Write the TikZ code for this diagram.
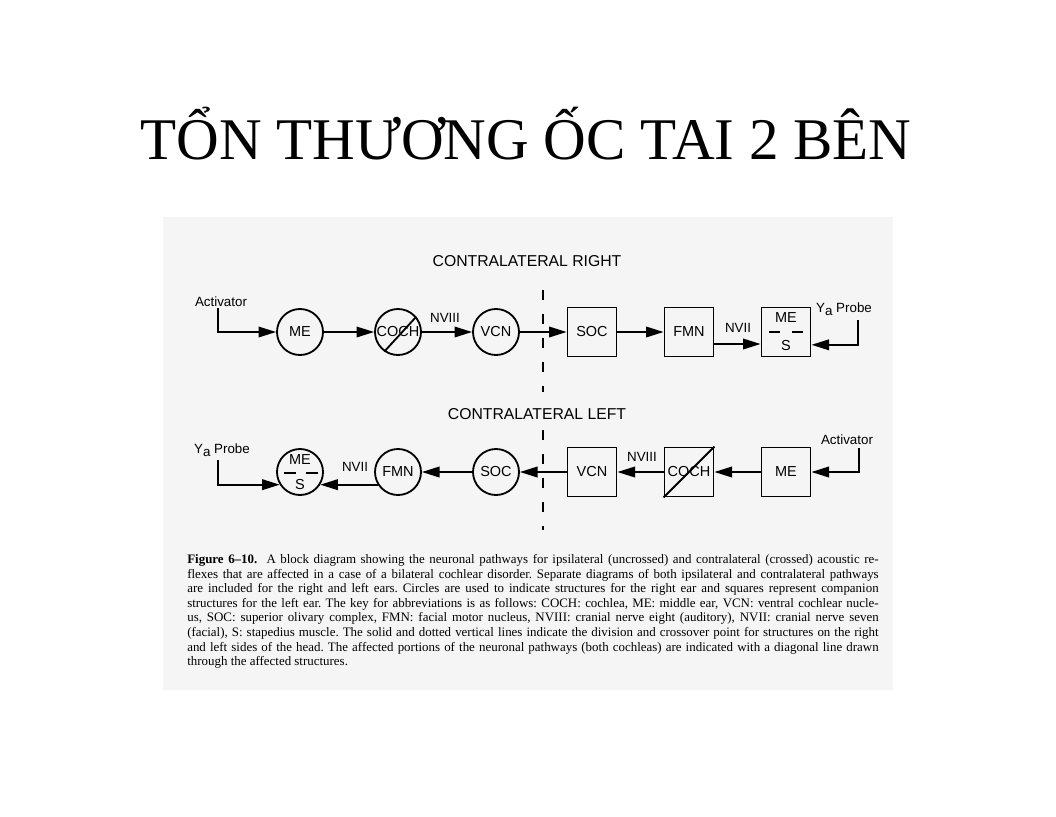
\documentclass[tikz,border=0pt]{standalone}
\usepackage{fontspec}
\setmainfont{Liberation Serif}
\newfontfamily\diagfont{Liberation Sans}
\usetikzlibrary{arrows.meta}

\newlength{\capw}
\setlength{\capw}{17.28cm}

\begin{document}
\begin{tikzpicture}[x=0.025cm, y=-0.025cm,
        ear/.style={circle, draw, line width=1.3pt, minimum size=1.15cm, inner sep=0pt, font=\diagfont\fontsize{10.3}{12}\selectfont},
        side/.style={rectangle, draw, line width=1.3pt, minimum size=1.225cm, inner sep=0pt, font=\diagfont\fontsize{10.3}{12}\selectfont},
        path/.style={line width=1.3pt, -{Triangle[length=12.5pt, width=7.5pt]}},
        lbl/.style={inner sep=0pt, font=\diagfont\fontsize{9.5}{11}\selectfont},
        hdr/.style={inner sep=0pt, font=\diagfont\fontsize{11.2}{13}\selectfont},
        midline/.style={line width=1.4pt, dash pattern=on 0.26cm off 0.34cm}]

        \useasboundingbox (0,0) rectangle (1056,816);
        \fill[white] (0,0) rectangle (1056,816);

        % Title
        \node[anchor=base, inner sep=0pt, font=\fontsize{42}{50}\selectfont] (title) at (526,159) {TỔN THƯƠNG ỐC TAI 2 BÊN};

        % Scanned figure
        \fill[gray!8] (163,217) rectangle (893,690);

        \node[hdr] (hright) at (527,261) {CONTRALATERAL RIGHT};
        \node[hdr] (hleft) at (537,414) {CONTRALATERAL LEFT};

        % Dotted midline
        \draw[midline] (543,290) -- (543,392);
        \draw[midline] (543,430) -- (543,530);

        % Top row: right ear circles, companion squares
        \node[ear] (mer) at (300,332) {ME};
        \node[ear] (cochr) at (398,332) {COCH};
        \node[ear] (vcnr) at (496,332) {VCN};
        \node[side] (socr) at (592,332) {SOC};
        \node[side] (fmnr) at (689,332) {FMN};
        \node[side] (mesr) at (786,332) {};
        \node[lbl, font=\diagfont\fontsize{10.3}{12}\selectfont] (mesrt) at (786,318) {ME};
        \node[lbl, font=\diagfont\fontsize{10.3}{12}\selectfont] (mesrb) at (786,346) {S};
        \draw[line width=1.3pt] (769,332) -- (780,332) (792,332) -- (803,332);
        \draw[line width=1.3pt] (cochr.235) -- (cochr.40);

        \node[lbl] (actr) at (221,302) {Activator};
        \node[lbl] (prr) at (844,309) {Y\raisebox{-0.45ex}{a} Probe};
        \coordinate (actrend) at (218,308);
        \coordinate (prrend) at (858,320);

        \draw[path] (actrend) |- (mer);
        \draw[path] (mer) -- (cochr);
        \draw[path] (cochr) -- (vcnr);
        \draw[path] (vcnr) -- (socr);
        \draw[path] (socr) -- (fmnr);
        \draw[path] ([yshift=-0.3cm]fmnr.east) -- ([yshift=-0.3cm]mesr.west);
        \draw[path] (prrend) |- ([yshift=-0.32cm]mesr.east);
        \node[lbl] (n8r) at (445,318) {NVIII};
        \node[lbl] (n7r) at (738,328) {NVII};

        % Bottom row
        \node[ear] (mesl) at (300,472) {};
        \node[lbl, font=\diagfont\fontsize{10.3}{12}\selectfont] (meslt) at (300,460) {ME};
        \node[lbl, font=\diagfont\fontsize{10.3}{12}\selectfont] (meslb) at (300,485) {S};
        \draw[line width=1.3pt] (284,473) -- (296,473) (306,473) -- (318,473);
        \node[ear] (fmnl) at (398,472) {FMN};
        \node[ear] (socl) at (496,472) {SOC};
        \node[side] (vcnl) at (592,472) {VCN};
        \node[side] (cochl) at (689,472) {COCH};
        \node[side] (mel) at (786,472) {ME};
        \draw[line width=1.3pt] (cochl.south west) -- (cochl.north east);

        \node[lbl] (prl) at (222,450) {Y\raisebox{-0.45ex}{a} Probe};
        \node[lbl] (actl) at (847,440) {Activator};
        \coordinate (prlend) at (218,460);
        \coordinate (actlend) at (859,448);

        \draw[path] (actlend) |- (mel);
        \draw[path] (mel) -- (cochl);
        \draw[path] (cochl) -- (vcnl);
        \draw[path] (vcnl) -- (socl);
        \draw[path] (socl) -- (fmnl);
        \draw[path] (fmnl.212) -- (mesl.328);
        \draw[path] (prlend) |- (mesl.212);
        \node[lbl] (n8l) at (642,457) {NVIII};
        \node[lbl] (n7l) at (355,467) {NVII};

        % Caption
        \node[anchor=north west, inner sep=0pt, align=left, font=\fontsize{9.2}{10.4}\selectfont\frenchspacing] (cap) at (187,554) {%
            \makebox[\capw][s]{\textbf{Figure 6–10.}\ \ A block diagram showing the neuronal pathways for ipsilateral (uncrossed) and contralateral (crossed) acoustic re-}\\
            \makebox[\capw][s]{flexes that are affected in a case of a bilateral cochlear disorder. Separate diagrams of both ipsilateral and contralateral pathways}\\
            \makebox[\capw][s]{are included for the right and left ears. Circles are used to indicate structures for the right ear and squares represent companion}\\
            \makebox[\capw][s]{structures for the left ear. The key for abbreviations is as follows: COCH: cochlea, ME: middle ear, VCN: ventral cochlear nucle-}\\
            \makebox[\capw][s]{us, SOC: superior olivary complex, FMN: facial motor nucleus, NVIII: cranial nerve eight (auditory), NVII: cranial nerve seven}\\
            \makebox[\capw][s]{(facial), S: stapedius muscle. The solid and dotted vertical lines indicate the division and crossover point for structures on the right}\\
            \makebox[\capw][s]{and left sides of the head. The affected portions of the neuronal pathways (both cochleas) are indicated with a diagonal line drawn}\\
            through the affected structures.};
    \end{tikzpicture}
\end{document}
